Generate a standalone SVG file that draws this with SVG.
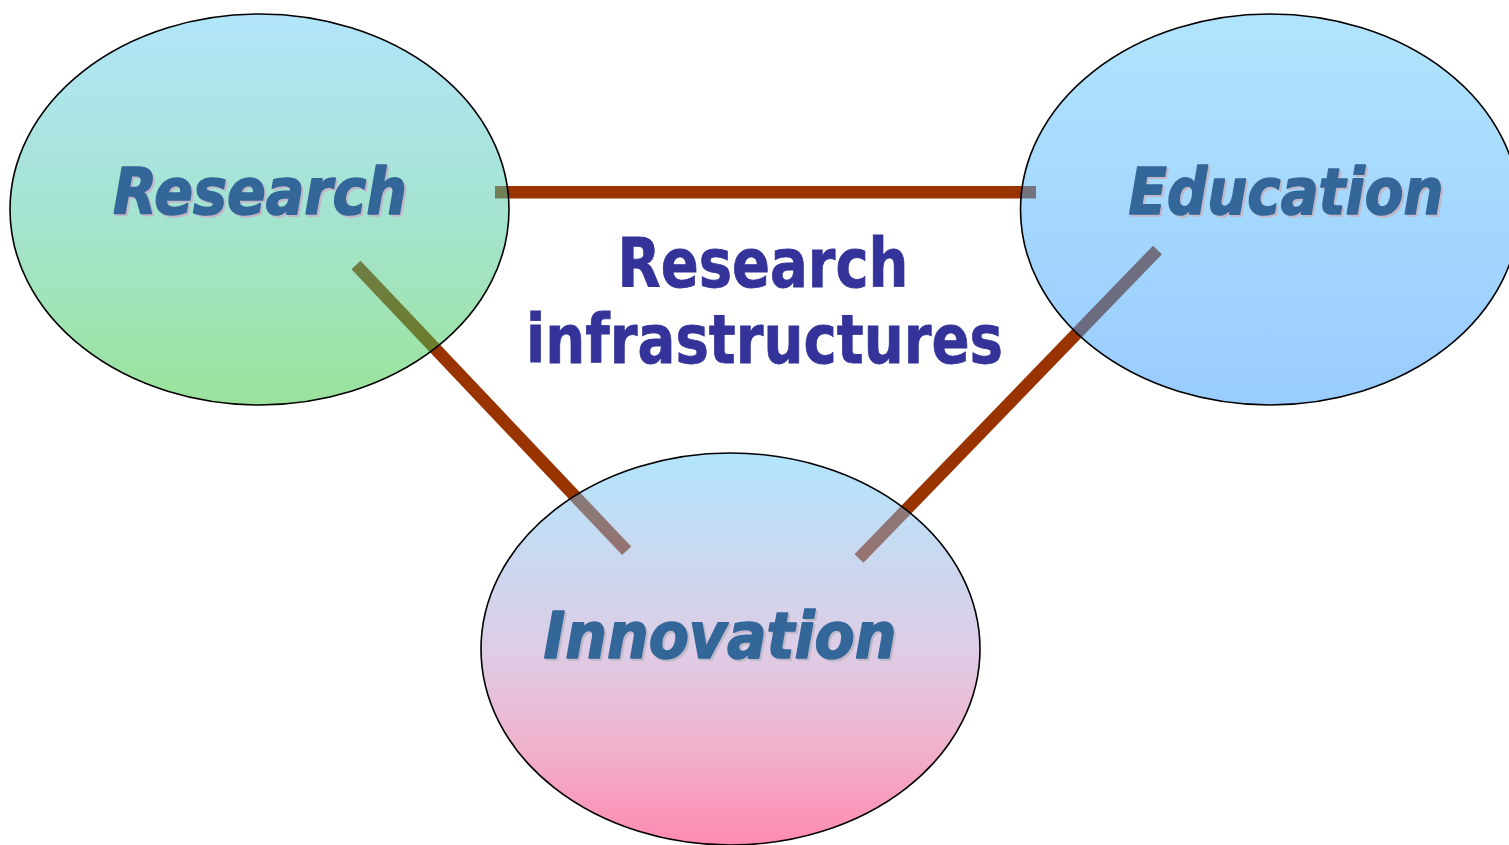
<svg xmlns="http://www.w3.org/2000/svg" width="1509" height="845" viewBox="0 0 1509 845">
  <defs>
    <linearGradient id="gResearch" x1="0" y1="0" x2="0" y2="1">
      <stop offset="0" stop-color="#65CBF5"/>
      <stop offset="0.5" stop-color="#4BC9A5"/>
      <stop offset="1" stop-color="#37C737"/>
    </linearGradient>
    <linearGradient id="gEducation" x1="0" y1="0" x2="0" y2="1">
      <stop offset="0" stop-color="#63C9F9"/>
      <stop offset="1" stop-color="#3399FF"/>
    </linearGradient>
    <linearGradient id="gInnovation" x1="0" y1="0" x2="0" y2="1">
      <stop offset="0" stop-color="#65CBF9"/>
      <stop offset="0.5" stop-color="#BD9BCD"/>
      <stop offset="0.75" stop-color="#E1659B"/>
      <stop offset="1" stop-color="#FF1565"/>
    </linearGradient>
    <style>
      .link { stroke: #993300; stroke-width: 12.5; stroke-linecap: butt; fill: none; }
      .node { fill-opacity: 0.5; stroke: #000000; stroke-width: 1.6; }
      .lbl { font-family: "DejaVu Sans", Verdana, sans-serif; font-weight: bold; font-style: italic; font-size: 64px; text-anchor: middle; stroke-width: 1.6; stroke-linejoin: round; }
      .lbl-fg { fill: #336699; stroke: #336699; }
      .lbl-sh { fill: #C0B8C8; stroke: #C0B8C8; }
      .center { font-family: "DejaVu Sans", Verdana, sans-serif; font-weight: bold; font-size: 67px; fill: #333399; stroke: #333399; stroke-width: 0.8; text-anchor: middle; }
    </style>
  </defs>
  <rect x="0" y="0" width="1509" height="845" fill="#FFFFFF"/>

  <g id="connectors">
    <line class="link" x1="495" y1="192.3" x2="1036" y2="192.3"/>
    <line class="link" x1="356" y1="265" x2="626.7" y2="550.8"/>
    <line class="link" x1="1157.5" y1="250" x2="859" y2="558.5"/>
  </g>

  <g id="node-research">
    <ellipse class="node" cx="259.5" cy="209.5" rx="249.5" ry="195.5" fill="url(#gResearch)"/>
    <text class="lbl lbl-sh" x="262" y="216" textLength="294" lengthAdjust="spacingAndGlyphs">Research</text>
    <text class="lbl lbl-fg" x="260" y="214" textLength="294" lengthAdjust="spacingAndGlyphs">Research</text>
  </g>

  <g id="node-education">
    <ellipse class="node" cx="1270" cy="209.5" rx="249.5" ry="195.5" fill="url(#gEducation)"/>
    <text class="lbl lbl-sh" x="1288" y="216" textLength="315" lengthAdjust="spacingAndGlyphs">Education</text>
    <text class="lbl lbl-fg" x="1286" y="214" textLength="315" lengthAdjust="spacingAndGlyphs">Education</text>
  </g>

  <g id="node-innovation">
    <ellipse class="node" cx="730.5" cy="649" rx="249.5" ry="196" fill="url(#gInnovation)"/>
    <text class="lbl lbl-sh" x="722" y="660" textLength="353" lengthAdjust="spacingAndGlyphs">Innovation</text>
    <text class="lbl lbl-fg" x="720" y="658" textLength="353" lengthAdjust="spacingAndGlyphs">Innovation</text>
  </g>

  <g id="center-label">
    <text class="center" x="763" y="287" textLength="291" lengthAdjust="spacingAndGlyphs">Research</text>
    <text class="center" x="764.5" y="363" textLength="477" lengthAdjust="spacingAndGlyphs">infrastructures</text>
  </g>
</svg>
